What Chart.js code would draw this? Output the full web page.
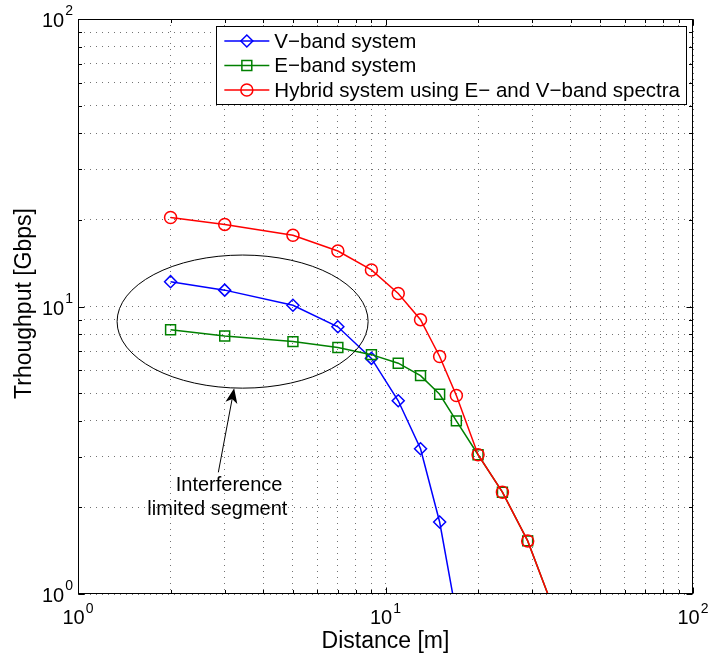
<!DOCTYPE html>
<html>
<head>
<meta charset="utf-8">
<script src="https://cdn.jsdelivr.net/npm/chart.js@4/dist/chart.umd.min.js"></script>
<style>
  html, body { margin: 0; padding: 0; background: #fff; }
</style>
</head>
<body>
<canvas id="myChart" width="714" height="654"></canvas>
<script>
// distance [m] of every simulated point
const distances = [2, 3, 5, 7, 9, 11, 13, 15, 17, 20, 24, 29, 35]
// throughput [Gbps]
const vBand = [12.2, 11.4, 10.1, 8.5, 6.6, 4.7, 3.2, 1.78, 0.85]
const eBand = [8.3, 7.9, 7.55, 7.2, 6.8, 6.35, 5.75, 4.95, 4.0, 3.05, 2.26, 1.53, 0.9]
const hybrid = [20.4, 19.3, 17.7, 15.6, 13.4, 11.1, 9.0, 6.7, 4.9, 3.05, 2.26, 1.53, 0.9]
const seriesNames = ['V\u2212band system', 'E\u2212band system', 'Hybrid system using E\u2212 and V\u2212band spectra']
const gridValues = [1, 2, 3, 4, 5, 6, 7, 8, 9, 10, 20, 30, 40, 50, 60, 70, 80, 90, 100]
const decades = [1, 10, 100]
const decadeExponents = ['0', '1', '2']
const xTitle = 'Distance [m]'
const yTitle = 'Trhoughput [Gbps]'
const noteLines = ['Interference', 'limited segment']

// annotation in data units
const ellipseBox = { xMin: 1.34, xMax: 8.78, yMin: 5.2, yMax: 15.1 }
const arrowFrom = { x: 2.86, y: 2.65 }
const arrowTo = { x: 3.22, y: 5.2 }
const noteAnchors = [{ x: 3.10, y: 2.29 }, { x: 2.84, y: 1.89 }]

const FONT = '"Liberation Sans", Arial, Helvetica, sans-serif'

function makeSet(label, values, color, marker, size, order) {
  return {
    label: label,
    data: values.map((v, i) => ({ x: distances[i], y: v })),
    borderColor: color,
    backgroundColor: color,
    borderWidth: 1.5,
    pointStyle: marker,
    pointRadius: size,
    pointBorderColor: color,
    pointBackgroundColor: 'rgba(0,0,0,0)',
    pointBorderWidth: 1.5,
    tension: 0,
    fill: false,
    order: order
  }
}

function useGrid(scale) {
  scale.ticks = gridValues.map(v => ({ value: v, major: decades.includes(v) }))
}

const matlabLook = {
  id: 'matlabLook',
  afterDatasetsDraw(chart) {
    const ctx = chart.ctx
    const x = chart.scales.x
    const y = chart.scales.y
    const a = chart.chartArea
    ctx.save()

    // ellipse round the interference limited part
    const l = x.getPixelForValue(ellipseBox.xMin), r = x.getPixelForValue(ellipseBox.xMax)
    const t = y.getPixelForValue(ellipseBox.yMax), b = y.getPixelForValue(ellipseBox.yMin)
    ctx.strokeStyle = '#000'
    ctx.lineWidth = 1
    ctx.beginPath()
    ctx.ellipse((l + r) / 2, (t + b) / 2, (r - l) / 2, (b - t) / 2, 0, 0, Math.PI * 2)
    ctx.stroke()

    // arrow
    const x0 = x.getPixelForValue(arrowFrom.x), y0 = y.getPixelForValue(arrowFrom.y)
    const x1 = x.getPixelForValue(arrowTo.x), y1 = y.getPixelForValue(arrowTo.y)
    const ang = Math.atan2(y1 - y0, x1 - x0)
    ctx.beginPath()
    ctx.moveTo(x0, y0)
    ctx.lineTo(x1 - 10 * Math.cos(ang), y1 - 10 * Math.sin(ang))
    ctx.stroke()
    ctx.save()
    ctx.translate(x1, y1)
    ctx.rotate(ang)
    ctx.fillStyle = '#000'
    ctx.beginPath()
    ctx.moveTo(0, 0)
    ctx.lineTo(-15, -6)
    ctx.lineTo(-11, 0)
    ctx.lineTo(-15, 6)
    ctx.closePath()
    ctx.fill()
    ctx.restore()

    ctx.fillStyle = '#000'
    ctx.font = '20px ' + FONT
    ctx.textAlign = 'center'
    ctx.textBaseline = 'alphabetic'
    noteLines.forEach((txt, i) => {
      ctx.fillText(txt, x.getPixelForValue(noteAnchors[i].x), y.getPixelForValue(noteAnchors[i].y))
    })

    // legend box
    ctx.font = '20.5px ' + FONT
    const textW = Math.max(...seriesNames.map(n => ctx.measureText(n).width))
    const boxR = a.right - 7
    const boxL = boxR - textW - 64
    const boxT = a.top + 7
    const boxH = 78
    ctx.fillStyle = '#fff'
    ctx.fillRect(boxL, boxT, boxR - boxL, boxH)
    ctx.strokeStyle = '#000'
    ctx.lineWidth = 1
    ctx.strokeRect(Math.round(boxL) + 0.5, Math.round(boxT) + 0.5, Math.round(boxR - boxL), boxH)
    chart.data.datasets.forEach((ds, i) => {
      const cy = boxT + 15 + i * 24.5
      ctx.strokeStyle = ds.borderColor
      ctx.lineWidth = 1.5
      ctx.beginPath()
      ctx.moveTo(boxL + 8, cy)
      ctx.lineTo(boxL + 53, cy)
      ctx.stroke()
      ctx.fillStyle = 'rgba(0,0,0,0)'
      Chart.helpers.drawPoint(ctx, { pointStyle: ds.pointStyle, rotation: 0, radius: ds.pointRadius, borderWidth: 1.5 }, boxL + 30.5, cy)
      ctx.fillStyle = '#000'
      ctx.textAlign = 'left'
      ctx.textBaseline = 'middle'
      ctx.fillText(ds.label, boxL + 58, cy + 1)
    })

    // box frame with inward ticks on every side
    ctx.strokeStyle = '#000'
    ctx.lineWidth = 1
    const L = Math.round(a.left) + 0.5, R = Math.round(a.right) - 0.5
    const T = Math.round(a.top) + 0.5, B = Math.round(a.bottom) - 0.5
    ctx.strokeRect(L, T, R - L, B - T)
    ctx.beginPath()
    gridValues.forEach(v => {
      const len = decades.includes(v) ? 6 : 3.5
      const px = Math.round(x.getPixelForValue(v)) + 0.5
      ctx.moveTo(px, B); ctx.lineTo(px, B - len)
      ctx.moveTo(px, T); ctx.lineTo(px, T + len)
      const py = Math.round(y.getPixelForValue(v)) + 0.5
      ctx.moveTo(L, py); ctx.lineTo(L + len, py)
      ctx.moveTo(R, py); ctx.lineTo(R - len, py)
    })
    ctx.stroke()

    // decade labels written as 10 with a raised exponent
    ctx.fillStyle = '#000'
    ctx.textBaseline = 'alphabetic'
    decades.forEach((v, i) => {
      ctx.font = '20px ' + FONT
      const baseW = ctx.measureText('10').width
      ctx.font = '14px ' + FONT
      const expW = ctx.measureText(decadeExponents[i]).width
      // x axis
      const px = x.getPixelForValue(v)
      const start = px - (baseW + expW + 1) / 2
      ctx.textAlign = 'left'
      ctx.font = '20px ' + FONT
      ctx.fillText('10', start, a.bottom + 30)
      ctx.font = '14px ' + FONT
      ctx.fillText(decadeExponents[i], start + baseW + 1, a.bottom + 19)
      // y axis
      const py = y.getPixelForValue(v)
      ctx.textAlign = 'right'
      ctx.fillText(decadeExponents[i], a.left - 5, py - 4)
      ctx.font = '20px ' + FONT
      ctx.fillText('10', a.left - 6 - expW, py + 8)
    })

    // axis titles
    ctx.font = '23px ' + FONT
    ctx.textAlign = 'center'
    ctx.fillText(xTitle, (a.left + a.right) / 2, 648)
    ctx.translate(31, (a.top + a.bottom) / 2 - 3)
    ctx.rotate(-Math.PI / 2)
    ctx.fillText(yTitle, 0, 0)
    ctx.restore()
  }
}//end of matlabLook plugin

function axisOptions() {
  return {
    type: 'logarithmic',
    min: 1,
    max: 100,
    afterBuildTicks: useGrid,
    ticks: { display: false },
    grid: { color: 'rgba(0,0,0,0.55)', lineWidth: 1, drawTicks: false },
    border: { display: false, dash: [1, 5] }
  }
}

const ctx = document.getElementById('myChart').getContext('2d')
const chart = new Chart(ctx, {
  type: 'line',
  data: {
    datasets: [
      makeSet(seriesNames[0], vBand, '#0000ff', 'rectRot', 6, 3),
      makeSet(seriesNames[1], eBand, '#008000', 'rect', 7, 2),
      makeSet(seriesNames[2], hybrid, '#ff0000', 'circle', 6, 1)
    ]
  },
  options: {
    responsive: false,
    animation: false,
    layout: { padding: { left: 78, top: 19, right: 21, bottom: 60 } },
    plugins: { legend: { display: false }, tooltip: { enabled: false } },
    scales: { x: axisOptions(), y: axisOptions() }
  },
  plugins: [matlabLook]
})
</script>
</body>
</html>
